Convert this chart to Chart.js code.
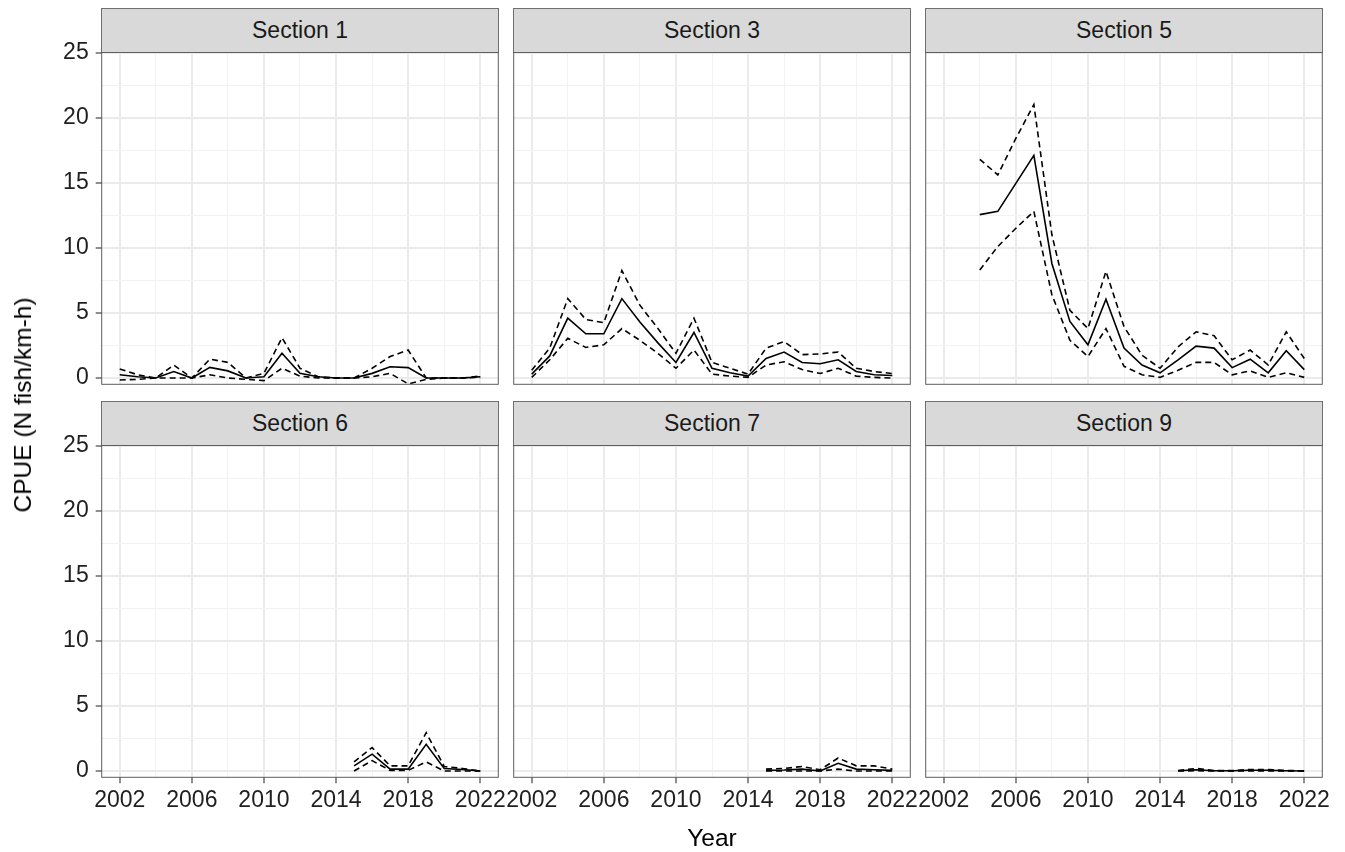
<!DOCTYPE html>
<html>
<head>
<meta charset="utf-8">
<script src="https://cdn.jsdelivr.net/npm/chart.js@4.4.0/dist/chart.umd.min.js"></script>
<style>
  html, body { margin: 0; padding: 0; background: #ffffff; }
  #wrap { position: relative; width: 1345px; height: 852px; overflow: hidden;
          font-family: "Liberation Sans", Arial, sans-serif; }
  #wrap canvas { position: absolute; left: 0; top: 0; }
  .strip { position: absolute; box-sizing: border-box; background: #d9d9d9;
           border: 1px solid #6e6e6e; color: #1a1a1a; font-size: 23px;
           display: flex; align-items: center; justify-content: center; }
  .axis-title { position: absolute; color: #000; font-size: 24.5px; white-space: nowrap; }
</style>
</head>
<body>
<div id="wrap"></div>
<script>
// Survey years and axis breaks
const years = [2002, 2003, 2004, 2005, 2006, 2007, 2008, 2009, 2010, 2011, 2012,
               2013, 2014, 2015, 2016, 2017, 2018, 2019, 2020, 2021, 2022];
const yearTicks = [2002, 2006, 2010, 2014, 2018, 2022];
const cpueTicks = [0, 5, 10, 15, 20, 25];
const sections = ["Section 1", "Section 3", "Section 5", "Section 6", "Section 7", "Section 9"];

// CPUE estimate with upper / lower interval, per section (null = not sampled)
const sec1Est   = [0.25, 0.1, 0, 0.5, 0, 0.82, 0.55, 0, 0.1, 1.9, 0.36, 0.1, 0, 0, 0.36, 0.87, 0.8, 0, 0, 0, 0.1];
const sec1Upper = [0.7, 0.25, 0, 1.0, 0, 1.45, 1.2, 0, 0.36, 3.1, 0.75, 0.1, 0, 0, 0.75, 1.65, 2.15, 0, 0, 0, 0.15];
const sec1Lower = [-0.15, -0.1, 0, 0, 0, 0.25, 0, -0.1, -0.2, 0.75, 0.15, 0, 0, 0, 0.1, 0.36, -0.45, -0.1, 0, 0, 0.05];

const sec3Est   = [0.3, 1.7, 4.6, 3.4, 3.4, 6.1, 4.3, 2.7, 1.2, 3.5, 0.75, 0.4, 0.15, 1.5, 2.0, 1.2, 1.1, 1.4, 0.5, 0.25, 0.2];
const sec3Upper = [0.6, 2.3, 6.1, 4.5, 4.25, 8.25, 5.6, 3.8, 1.9, 4.6, 1.2, 0.75, 0.3, 2.3, 2.8, 1.8, 1.85, 2.0, 0.75, 0.5, 0.35];
const sec3Lower = [0.05, 1.4, 3.05, 2.35, 2.55, 3.8, 2.9, 1.9, 0.75, 2.15, 0.3, 0.15, 0.05, 1.0, 1.25, 0.65, 0.35, 0.75, 0.15, 0.05, 0];

const sec5Est   = [null, null, 12.55, 12.8, 14.95, 17.1, 8.8, 4.35, 2.55, 6.05, 2.3, 1.0, 0.4, 1.4, 2.45, 2.3, 0.8, 1.45, 0.4, 2.1, 0.65];
const sec5Upper = [null, null, 16.8, 15.6, 18.4, 21.0, 11.0, 5.2, 3.8, 8.2, 3.95, 1.75, 0.75, 2.4, 3.55, 3.25, 1.4, 2.15, 1.0, 3.55, 1.5];
const sec5Lower = [null, null, 8.3, 10.1, 11.5, 12.8, 6.4, 2.9, 1.65, 3.8, 0.9, 0.25, 0.05, 0.6, 1.2, 1.2, 0.25, 0.55, 0.05, 0.4, 0.05];

const sec6Est   = [null, null, null, null, null, null, null, null, null, null, null, null, null, 0.4, 1.3, 0.15, 0.15, 2.05, 0.2, 0.12, 0];
const sec6Upper = [null, null, null, null, null, null, null, null, null, null, null, null, null, 0.7, 1.8, 0.4, 0.4, 2.95, 0.35, 0.2, 0];
const sec6Lower = [null, null, null, null, null, null, null, null, null, null, null, null, null, 0, 0.8, 0.05, 0.05, 0.7, 0, 0, 0];

const sec7Est   = [null, null, null, null, null, null, null, null, null, null, null, null, null, 0.05, 0.08, 0.15, 0, 0.6, 0.15, 0.1, 0.05];
const sec7Upper = [null, null, null, null, null, null, null, null, null, null, null, null, null, 0.15, 0.2, 0.35, 0.1, 1.0, 0.4, 0.4, 0.15];
const sec7Lower = [null, null, null, null, null, null, null, null, null, null, null, null, null, 0, 0, 0, 0, 0.15, 0, 0, 0];

const sec9Est   = [null, null, null, null, null, null, null, null, null, null, null, null, null, 0.02, 0.1, 0.02, 0.02, 0.06, 0.06, 0.02, 0];
const sec9Upper = [null, null, null, null, null, null, null, null, null, null, null, null, null, 0.04, 0.2, 0.04, 0.03, 0.12, 0.12, 0.04, 0.02];
const sec9Lower = [null, null, null, null, null, null, null, null, null, null, null, null, null, 0, 0.03, 0, 0, 0.01, 0.01, 0, 0];

const estSeries   = [sec1Est, sec3Est, sec5Est, sec6Est, sec7Est, sec9Est];
const upperSeries = [sec1Upper, sec3Upper, sec5Upper, sec6Upper, sec7Upper, sec9Upper];
const lowerSeries = [sec1Lower, sec3Lower, sec5Lower, sec6Lower, sec7Lower, sec9Lower];

// Facet geometry (page pixels)
const colLeft = [101.7, 513.7, 925.7];
const rowTop = [52.5, 445.5];
const panelW = 396.6;
const panelH = 331.8;
const stripH = 44.2;
const W = 1345, H = 852;

const FONT = '"Liberation Sans", Arial, sans-serif';
const minorYears = yearTicks.slice(1).map((v, i) => (v + yearTicks[i]) / 2);
const minorCpue = cpueTicks.slice(1).map((v, i) => (v + cpueTicks[i]) / 2);
const allYearTicks = yearTicks.concat(minorYears).sort((a, b) => a - b);
const allCpueTicks = cpueTicks.concat(minorCpue).sort((a, b) => a - b);

const panelBorder = {
  id: 'panelBorder',
  afterDraw(chart) {
    const a = chart.chartArea, c = chart.ctx;
    c.save();
    c.strokeStyle = '#5e5e5e';
    c.lineWidth = 1;
    c.strokeRect(a.left, a.top, a.right - a.left, a.bottom - a.top);
    c.restore();
  }
};

const wrap = document.getElementById('wrap');

function toPoints(arr) {
  return years.map((yr, i) => ({ x: yr, y: arr[i] }));
}

sections.forEach((name, k) => {
  const col = k % 3, row = Math.floor(k / 3);
  const x0 = colLeft[col], y0 = rowTop[row];
  const x1 = x0 + panelW, y1 = y0 + panelH;
  const showY = col === 0, showX = row === 1;

  const strip = document.createElement('div');
  strip.className = 'strip';
  strip.textContent = name;
  strip.style.left = (x0 - 0.5) + 'px';
  strip.style.top = (y0 - stripH) + 'px';
  strip.style.width = (panelW + 1) + 'px';
  strip.style.height = (stripH + 0.5) + 'px';
  wrap.appendChild(strip);

  const cv = document.createElement('canvas');
  cv.width = W; cv.height = H;
  cv.style.width = W + 'px'; cv.style.height = H + 'px';
  wrap.appendChild(cv);

  const lineBase = { borderColor: '#000000', borderWidth: 1.6, pointRadius: 0, tension: 0, spanGaps: false, fill: false };

  new Chart(cv, {
    type: 'line',
    data: {
      datasets: [
        Object.assign({ label: 'upper', data: toPoints(upperSeries[k]), borderDash: [6, 4] }, lineBase),
        Object.assign({ label: 'lower', data: toPoints(lowerSeries[k]), borderDash: [6, 4] }, lineBase),
        Object.assign({ label: 'CPUE', data: toPoints(estSeries[k]) }, lineBase)
      ]
    },
    options: {
      responsive: false,
      animation: false,
      devicePixelRatio: 1,
      events: [],
      layout: { padding: { left: 0, top: y0, right: W - x1, bottom: 0 } },
      plugins: { legend: { display: false }, tooltip: { enabled: false }, title: { display: false } },
      scales: {
        x: {
          type: 'linear', min: 2001, max: 2023,
          afterBuildTicks: (s) => { s.ticks = allYearTicks.map(v => ({ value: v })); },
          afterFit: (s) => { s.height = H - y1; },
          border: { display: false },
          grid: {
            drawOnChartArea: true,
            drawTicks: showX,
            tickLength: 6,
            tickWidth: 1.1,
            tickColor: (ctx) => yearTicks.includes(ctx.tick.value) ? '#333333' : 'rgba(0,0,0,0)',
            color: (ctx) => yearTicks.includes(ctx.tick.value) ? '#ebebeb' : '#f2f2f2',
            lineWidth: (ctx) => yearTicks.includes(ctx.tick.value) ? 2 : 1
          },
          ticks: {
            display: showX,
            autoSkip: false, minRotation: 0, maxRotation: 0,
            padding: 4,
            color: '#1f1f1f',
            font: { family: FONT, size: 23 },
            callback: (v) => yearTicks.includes(v) ? String(v) : ''
          }
        },
        y: {
          type: 'linear', min: -0.48, max: 25,
          afterBuildTicks: (s) => { s.ticks = allCpueTicks.map(v => ({ value: v })); },
          afterFit: (s) => { s.width = x0; },
          border: { display: false },
          grid: {
            drawOnChartArea: true,
            drawTicks: showY,
            tickLength: 6,
            tickWidth: 1.1,
            tickColor: (ctx) => cpueTicks.includes(ctx.tick.value) ? '#333333' : 'rgba(0,0,0,0)',
            color: (ctx) => cpueTicks.includes(ctx.tick.value) ? '#ebebeb' : '#f2f2f2',
            lineWidth: (ctx) => cpueTicks.includes(ctx.tick.value) ? 2 : 1
          },
          ticks: {
            display: showY,
            padding: 7,
            color: '#1f1f1f',
            font: { family: FONT, size: 23 },
            callback: (v) => cpueTicks.includes(v) ? String(v) : ''
          }
        }
      }
    },
    plugins: [panelBorder]
  });
});

// Shared axis titles
const xTitle = document.createElement('div');
xTitle.className = 'axis-title';
xTitle.textContent = 'Year';
xTitle.style.left = '0px';
xTitle.style.width = '1424px';
xTitle.style.textAlign = 'center';
xTitle.style.top = '824px';
wrap.appendChild(xTitle);

const yTitle = document.createElement('div');
yTitle.className = 'axis-title';
yTitle.textContent = 'CPUE (N fish/km-h)';
yTitle.style.left = '23px';
yTitle.style.top = '405px';
yTitle.style.transform = 'translate(-50%, -50%) rotate(-90deg)';
wrap.appendChild(yTitle);
</script>
</body>
</html>
